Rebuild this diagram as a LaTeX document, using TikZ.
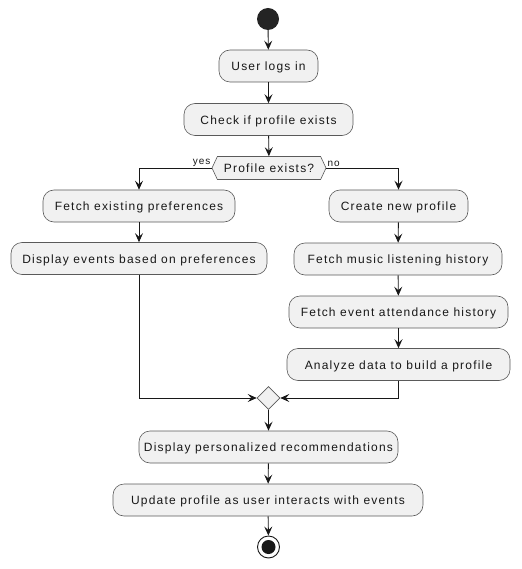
\documentclass[tikz,border=0pt]{standalone}
\usepackage{fontspec}
\setmainfont{Liberation Sans}[LetterSpace=10]
\usetikzlibrary{arrows.meta,shapes.geometric,shapes.symbols}
\definecolor{boxfill}{HTML}{F1F1F1}
\definecolor{ln}{HTML}{181818}
\definecolor{bd}{HTML}{5A5A5A}
\begin{document}
\begin{tikzpicture}[x=1pt,y=-1pt,
  act/.style={draw=bd, line width=0.6pt, fill=boxfill, rounded corners=11pt,
    minimum height=32pt, inner sep=0pt, font=\fontsize{12}{14}\selectfont, text=ln,
    text height=10pt, text depth=0.4pt},
  arr/.style={draw=ln, line width=0.9pt, -{Stealth[length=9pt,width=8pt,inset=3.5pt]}},
  lab/.style={font=\fontsize{10}{12}\selectfont, text=ln, inner sep=1pt}
]
\useasboundingbox (0,0) rectangle (521,569);
\node[circle, fill=ln!95!white, minimum size=22pt, inner sep=0pt] (start) at (268,19) {};
\node[act, minimum width=99pt] (login) at (268.5,66) {User logs in};
\node[act, minimum width=169pt] (check) at (268.5,119.5) {Check if profile exists};
\node[signal, signal to=west and east, signal pointer angle=130, draw=bd, line width=0.6pt,
  fill=boxfill, minimum width=114pt, minimum height=23pt, inner sep=0pt,
  font=\fontsize{12}{14}\selectfont, text=ln, text height=10pt, text depth=0.4pt] (dec) at (269,168) {Profile exists?};
\node[act, minimum width=192pt] (pref) at (139,206) {Fetch existing preferences};
\node[act, minimum width=256pt] (dispev) at (139,258.5) {Display events based on preferences};
\node[act, minimum width=139pt] (create) at (398.5,206) {Create new profile};
\node[act, minimum width=208pt] (music) at (398,259) {Fetch music listening history};
\node[act, minimum width=219pt] (attend) at (398.5,312) {Fetch event attendance history};
\node[act, minimum width=223pt] (analyze) at (398.5,364.5) {Analyze data to build a profile};
\node[diamond, draw=bd, line width=0.6pt, fill=boxfill, minimum size=23pt, inner sep=0pt] (merge) at (268.5,398) {};
\node[act, minimum width=259pt] (recs) at (268.5,447) {Display personalized recommendations};
\node[act, minimum width=310pt] (update) at (268,500) {Update profile as user interacts with events};
\node[circle, draw=ln, line width=0.9pt, fill=white, minimum size=22pt, inner sep=0pt] (stop) at (268.5,547) {};
\node[circle, fill=ln, minimum size=14pt, inner sep=0pt] (stopdot) at (stop.center) {};

\draw[arr] (start) -- (login);
\draw[arr] (login) -- (check);
\draw[arr] (check) -- (dec);
\draw[arr] (dec.west) -| (pref.north);
\draw[arr] (dec.east) -| (create.north);
\node[lab, anchor=south east] (yes) at (dec.west) {yes};
\node[lab, anchor=south west] (no) at (dec.east) {no};
\draw[arr] (pref) -- (dispev);
\draw[arr] (create) -- (music);
\draw[arr] (music) -- (attend);
\draw[arr] (attend) -- (analyze);
\draw[arr] (dispev.south) |- (merge.west);
\draw[arr] (analyze.south) |- (merge.east);
\draw[arr] (merge) -- (recs);
\draw[arr] (recs) -- (update);
\draw[arr] (update) -- (stop);
\end{tikzpicture}
\end{document}
